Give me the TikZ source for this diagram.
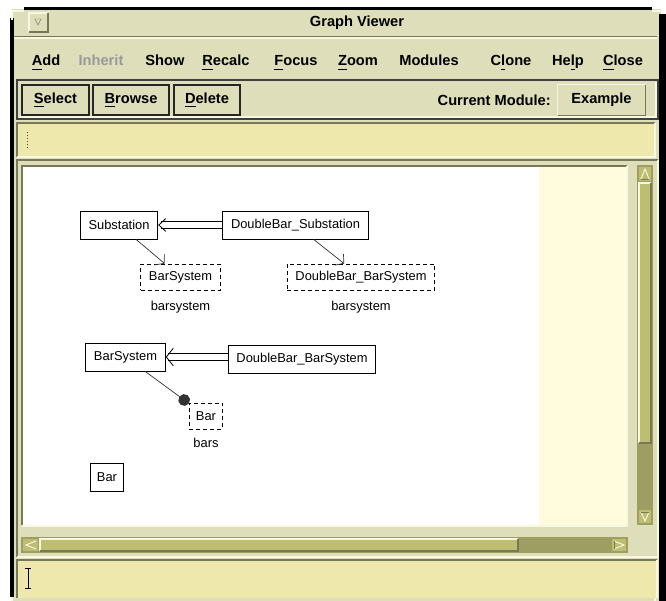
\documentclass[tikz,border=0pt]{standalone}
\usepackage{fontspec}
\setmainfont{Liberation Sans}
\usetikzlibrary{arrows.meta}
\definecolor{winbg}{RGB}{222,222,186}
\definecolor{fieldbg}{RGB}{238,232,172}
\definecolor{canvasside}{RGB}{255,252,222}
\definecolor{thumbcol}{RGB}{190,190,112}
\definecolor{troughcol}{RGB}{158,158,98}
\definecolor{shadecol}{RGB}{120,120,88}
\definecolor{lightcol}{RGB}{248,248,226}
\newcommand{\mnem}[1]{\setbox0\hbox{#1}\rlap{\rule[-3.4pt]{\wd0}{1.2pt}}#1}

\begin{document}
\begin{tikzpicture}[x=0.03cm, y=-0.03cm,
        menu/.style={font=\fontsize{12.5}{15}\selectfont\bfseries, anchor=base, inner sep=0pt},
        pushbutton/.style={draw=black!85, line width=0.9pt, fill=winbg, minimum width=#1, minimum height=0.9cm, inner sep=0pt, font=\fontsize{12.5}{15}\selectfont\bfseries},
        class/.style={draw=black, line width=0.7pt, fill=white, minimum height=0.84cm, inner xsep=0.25cm, inner ysep=0pt, font=\fontsize{11}{13}\selectfont},
        classref/.style={class, dash pattern=on 0.12cm off 0.09cm, minimum height=0.78cm},
        rolename/.style={font=\fontsize{11}{13}\selectfont, inner sep=0pt, anchor=north},
        inherit/.style={line width=0.7pt, line cap=butt, dash pattern=on 0pt off 50cm,
            -{Straight Barb[length=6pt, width=#1, line width=0.7pt]},
            preaction={draw, solid, -, shorten >=2.3pt, transform canvas={yshift=3pt}},
            preaction={draw, solid, -, shorten >=2.3pt, transform canvas={yshift=-3pt}}},
        refedge/.style={line width=0.6pt, black!80, -{Straight Barb[length=5pt, width=12pt]}},
        partedge/.style={line width=0.6pt, black!80, -{Circle[length=10pt]}},
        sunken/.style={shadecol, line width=1pt},
        raised/.style={lightcol, line width=1pt}
    ]

        \useasboundingbox (0,0) rectangle (666,601);
        \fill[white] (0,0) rectangle (666,601);
        \fill[winbg] (12,9) rectangle (661,601);
        \fill[black] (10,18) rectangle (14,597);
        \fill[black] (24,7) rectangle (652,10);
        \fill[black] (659,14) rectangle (666,601);
        \draw[raised] (12,20) -- (12,11) -- (24,11);
        \draw[raised] (652,11) -- (662,11);

        \draw[sunken] (14,36.5) -- (657,36.5);
        \draw[raised] (14,38) -- (657,38);
        \draw[raised, fill=winbg] (29,32) -- (29,13) -- (48,13);
        \draw[sunken] (48,13) -- (48,32) -- (29,32);
        \draw[black!50, line width=0.4pt] (35,19) -- (41,19) -- (38,25) -- cycle;
        \node[font=\fontsize{12.5}{15}\selectfont\bfseries] (title) at (357,23) {Graph Viewer};

        \node[menu] (mAdd) at (46,66) {\mnem{A}dd};
        \node[menu, text=black!40] (mInherit) at (101,66) {Inherit};
        \node[menu] (mShow) at (165,66) {Show};
        \node[menu] (mRecalc) at (226,66) {\mnem{R}ecalc};
        \node[menu] (mFocus) at (296,66) {\mnem{F}ocus};
        \node[menu] (mZoom) at (358,66) {\mnem{Z}oom};
        \node[menu] (mModules) at (429,66) {Modules};
        \node[menu] (mClone) at (511,66) {C\mnem{l}one};
        \node[menu] (mHelp) at (568,66) {He\mnem{l}p};
        \node[menu] (mClose) at (623,66) {\mnem{C}lose};

        \draw[black!75, line width=0.9pt] (17,80) rectangle (658,119);
        \draw[raised] (19,117) -- (656,117) -- (656,82);
        \node[pushbutton=2.01cm] (bSelect) at (55.5,100) {\mnem{S}elect};
        \node[pushbutton=2.28cm] (bBrowse) at (131,100) {\mnem{B}rowse};
        \node[pushbutton=1.98cm] (bDelete) at (207,100) {\mnem{D}elete};
        \node[font=\fontsize{12.5}{15}\selectfont\bfseries, anchor=east, inner sep=0pt] (curmod) at (551,100) {Current Module:};
        \node[fill=winbg, minimum width=2.61cm, minimum height=0.9cm, inner sep=0pt, font=\fontsize{12.5}{15}\selectfont\bfseries] (bExample) at (601.5,100) {Example};
        \draw[raised] (bExample.south west) -- (bExample.north west) -- (bExample.north east);
        \draw[sunken] (bExample.north east) -- (bExample.south east) -- (bExample.south west);

        \fill[fieldbg] (17,123) rectangle (655,157);
        \draw[sunken] (17,157) -- (17,123) -- (655,123);
        \draw[raised] (655,123) -- (655,157) -- (17,157);
        \draw[black!70, dotted, line width=0.6pt] (27,132) -- (27,150);

        \draw[sunken] (17,557) -- (17,160) -- (658,160);
        \draw[raised] (658,160) -- (658,557) -- (17,557);
        \fill[white] (23,167) rectangle (539,525);
        \fill[canvasside] (539,167) rectangle (626,525);
        \draw[sunken] (22,525) -- (22,166) -- (627,166);
        \draw[raised] (627,166) -- (627,526) -- (22,526);

        \fill[troughcol] (637,165) rectangle (653,525);
        \fill[thumbcol] (639,183) rectangle (651,443);
        \draw[raised] (639,443) -- (639,183) -- (651,183);
        \draw[sunken] (651,183) -- (651,443) -- (639,443);
        \fill[thumbcol] (639,167) rectangle (651,181);
        \fill[thumbcol] (639,510) rectangle (651,523);
        \draw[lightcol, line width=0.8pt] (641,179) -- (645,169) -- (649,179);
        \draw[shadecol, line width=0.8pt] (649,179) -- (641,179);
        \draw[lightcol, line width=0.8pt] (641,512) -- (645,521) -- (649,512);
        \draw[shadecol, line width=0.8pt] (641,512) -- (649,512);

        \fill[troughcol] (21,537) rectangle (628,553);
        \fill[thumbcol] (40,539) rectangle (518,551);
        \draw[raised] (40,551) -- (40,539) -- (518,539);
        \draw[sunken] (518,539) -- (518,551) -- (40,551);
        \fill[thumbcol] (23,539) rectangle (38,551);
        \fill[thumbcol] (612,539) rectangle (626,551);
        \draw[lightcol, line width=0.8pt] (36,541) -- (26,545) -- (36,549);
        \draw[lightcol, line width=0.8pt] (614,541) -- (624,545) -- (614,549);
        \draw[shadecol, line width=0.8pt] (614,541) -- (614,549);

        \fill[fieldbg] (17,560) rectangle (657,598);
        \draw[sunken] (17,598) -- (17,560) -- (657,560);
        \draw[raised] (657,560) -- (657,598);
        \draw[raised] (12,598) -- (12,601);
        \draw[raised] (655,598) -- (655,601);
        \draw[black, line width=0.7pt] (28,568) -- (28,588);
        \draw[black, line width=0.7pt] (25,568) -- (31,568);
        \draw[black, line width=0.7pt] (25,588) -- (31,588);

        \node[class] (sub) at (119,225) {Substation};
        \node[class] (dbsub) at (295.5,225) {DoubleBar\_Substation};
        \node[classref] (bsA) at (180.5,277) {BarSystem};
        \node[classref] (dbbsA) at (361,277) {DoubleBar\_BarSystem};
        \node[rolename] (lbA) at ([yshift=-9pt]bsA.south) {barsystem};
        \node[rolename] (lbB) at ([yshift=-9pt]dbbsA.south) {barsystem};

        \node[class] (bsB) at (125.5,357) {BarSystem};
        \node[class] (dbbsB) at (302,359) {DoubleBar\_BarSystem};
        \node[classref, inner xsep=0.2cm] (barA) at (206,416) {Bar};
        \node[rolename] (lbC) at ([yshift=-7pt]barA.south) {bars};
        \node[class, inner xsep=0.2cm] (barB) at (107,477) {Bar};

        \draw[inherit=11pt] (dbsub) -- (sub);
        \draw[refedge] (sub) -- (bsA);
        \draw[refedge] (dbsub) -- (dbbsA);
        \draw[inherit=15pt] (dbbsB.west |- bsB.east) -- (bsB);
        \draw[partedge] (bsB) -- (barA);
    \end{tikzpicture}
\end{document}
